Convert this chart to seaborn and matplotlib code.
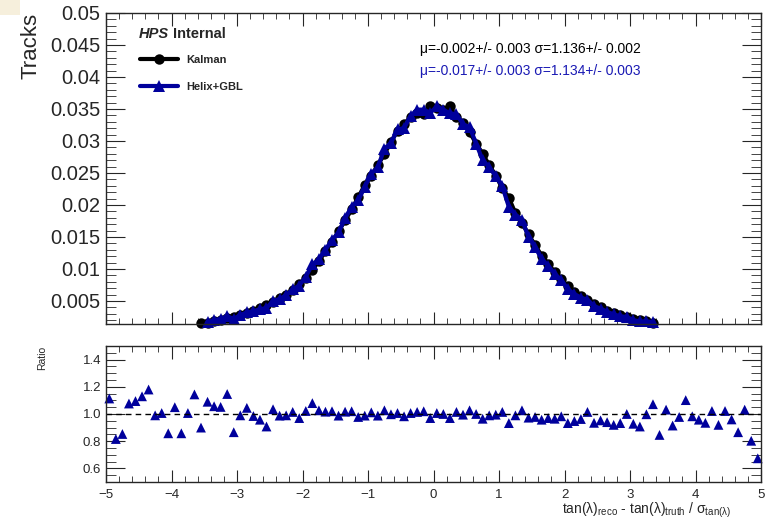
import numpy as np
import pandas as pd
import matplotlib
matplotlib.use("Agg")
import matplotlib.pyplot as plt
from matplotlib.patches import Rectangle
from matplotlib.ticker import MultipleLocator
import seaborn as sns

# bin centres (bin width 0.1)
kalman_x = np.round(np.arange(-3.55, 3.36, 0.1), 2)
kalman_y = [0.0015, 0.0016, 0.0019, 0.0021, 0.0023, 0.0025, 0.0028, 0.0031, 0.0034, 0.0039,
            0.0043, 0.0048, 0.0054, 0.0060, 0.0067, 0.0076, 0.0086, 0.0099, 0.0112, 0.0128,
            0.0142, 0.0159, 0.0176, 0.0193, 0.0212, 0.0231, 0.0246, 0.0262, 0.0280, 0.0298,
            0.0316, 0.0326, 0.0337, 0.0344, 0.0342, 0.0355, 0.0352, 0.0349, 0.0354, 0.0337,
            0.0328, 0.0314, 0.0296, 0.0280, 0.0262, 0.0246, 0.0226, 0.0211, 0.0187, 0.0172,
            0.0154, 0.0137, 0.0121, 0.0108, 0.0095, 0.0084, 0.0073, 0.0064, 0.0057, 0.0051,
            0.0045, 0.0040, 0.0035, 0.0031, 0.0028, 0.0025, 0.0022, 0.0020, 0.0018, 0.0016]

gbl_x = np.round(np.arange(-3.45, 3.36, 0.1), 2)
gbl_y = [0.0017, 0.0020, 0.0022, 0.0026, 0.0022, 0.0028, 0.0032, 0.0034, 0.0037, 0.0039,
         0.0050, 0.0053, 0.0059, 0.0068, 0.0074, 0.0088, 0.0107, 0.0115, 0.0130, 0.0145,
         0.0157, 0.0179, 0.0197, 0.0207, 0.0228, 0.0249, 0.0259, 0.0288, 0.0297, 0.0318,
         0.0320, 0.0339, 0.0349, 0.0349, 0.0344, 0.0354, 0.0349, 0.0343, 0.0342, 0.0326,
         0.0322, 0.0296, 0.0270, 0.0259, 0.0245, 0.0229, 0.0197, 0.0185, 0.0177, 0.0150,
         0.0134, 0.0116, 0.0105, 0.0092, 0.0083, 0.0068, 0.0061, 0.0055, 0.0052, 0.0042,
         0.0038, 0.0033, 0.0029, 0.0026, 0.0025, 0.0020, 0.0018, 0.0018, 0.0017]

ratio_x = np.round(np.arange(-4.95, 5.0, 0.1), 2)
ratio_y = [1.114, 0.816, 0.853, 1.077, 1.095, 1.13, 1.18, 0.99, 1.007, 0.858,
           1.05, 0.858, 1.007, 1.144, 0.90, 1.09, 1.057, 1.052, 1.147, 0.866,
           0.99, 1.045, 0.985, 0.958, 0.908, 1.035, 0.988, 0.99, 1.015, 0.97,
           1.022, 1.08, 1.027, 1.017, 1.02, 0.988, 1.017, 1.02, 0.978, 0.988,
           1.012, 0.988, 1.027, 0.998, 1.007, 0.983, 1.007, 1.015, 1.02, 0.97,
           1.007, 1.0, 0.97, 1.015, 0.995, 1.027, 1.0, 0.965, 0.99, 0.995,
           1.015, 0.933, 0.99, 1.027, 0.973, 0.978, 0.958, 0.97, 0.965, 0.983,
           0.933, 0.948, 0.963, 1.015, 0.935, 0.953, 0.94, 0.92, 0.933, 1.0,
           0.928, 0.908, 0.998, 1.072, 0.846, 1.032, 0.915, 0.978, 1.102, 0.983,
           0.958, 0.935, 1.022, 0.92, 1.022, 0.96, 0.866, 1.032, 0.803, 0.674]

stats_kalman = "\u03bc=-0.002+/- 0.003 \u03c3=1.136+/- 0.002"
stats_gbl = "\u03bc=-0.017+/- 0.003 \u03c3=1.134+/- 0.003"

blue = "#00009c"

sns.set_style("ticks")
plt.rcParams['font.family'] = ['Liberation Sans', 'DejaVu Sans']
plt.rcParams['mathtext.fontset'] = 'custom'
plt.rcParams['mathtext.rm'] = 'Liberation Sans'
plt.rcParams['mathtext.it'] = 'Liberation Sans'

kal = pd.DataFrame({'x': kalman_x, 'y': kalman_y})
gbl = pd.DataFrame({'x': gbl_x, 'y': gbl_y})
rat = pd.DataFrame({'x': ratio_x, 'y': ratio_y})

fig = plt.figure(figsize=(7.71, 5.24), dpi=100)
ax = fig.add_axes([0.1375, 0.3817, 0.8496, 0.5935])
axr = fig.add_axes([0.1375, 0.0802, 0.8496, 0.2595])

# 主图
sns.lineplot(data=kal, x='x', y='y', ax=ax, color='black', marker='o', markersize=7.5,
             markeredgewidth=0, linewidth=3, label='Kalman', clip_on=False)
sns.lineplot(data=gbl, x='x', y='y', ax=ax, color=blue, marker='^', markersize=8,
             markeredgewidth=0, linewidth=3, label='Helix+GBL', clip_on=False)
ax.set_xlim(-5, 5)
ax.set_ylim(0.0014, 0.05)
ax.set_xlabel('')
ax.set_ylabel('Tracks', fontsize=16, loc='top')
ax.yaxis.set_label_coords(-0.098, 1.0)
ax.yaxis.set_minor_locator(MultipleLocator(0.001))
ax.xaxis.set_major_locator(MultipleLocator(1))
ax.xaxis.set_minor_locator(MultipleLocator(0.2))
yt = np.round(np.arange(0.005, 0.0501, 0.005), 3)
ax.set_yticks(yt)
ax.set_yticklabels([f"{v:g}" for v in yt])
ax.tick_params(axis='both', which='both', direction='in', top=True, right=True)
ax.tick_params(axis='y', which='major', length=14, labelsize=14.5, pad=4)
ax.tick_params(axis='y', which='minor', length=7)
ax.tick_params(axis='x', which='major', length=9, labelbottom=False)
ax.tick_params(axis='x', which='minor', length=4.5)
ax.legend(loc='upper left', bbox_to_anchor=(0.045, 0.878), frameon=False,
          prop={'weight': 'bold', 'size': 8}, handlelength=3.4, labelspacing=1.5,
          handletextpad=0.8, borderaxespad=0)

ax.text(0.05, 0.955, 'HPS', transform=ax.transAxes, fontsize=10.5,
        fontweight='bold', fontstyle='italic', va='top')
ax.text(0.103, 0.955, 'Internal', transform=ax.transAxes, fontsize=10.5,
        fontweight='bold', va='top')
ax.text(0.48, 0.883, stats_kalman, transform=ax.transAxes, fontsize=10, color='black', va='center')
ax.text(0.48, 0.815, stats_gbl, transform=ax.transAxes, fontsize=10, color='#1a1ab4', va='center')

# 比值图
sns.scatterplot(data=rat, x='x', y='y', ax=axr, color=blue, marker='^', s=50,
                edgecolor='none', clip_on=False, legend=False)
axr.axhline(1.0, color='black', linestyle='--', linewidth=1, dashes=(4, 3))
axr.set_xlim(-5, 5)
axr.set_ylim(0.5, 1.5)
axr.set_yticks([0.6, 0.8, 1.0, 1.2, 1.4])
axr.set_yticklabels(['0.6', '0.8', '1.0', '1.2', '1.4'])
axr.yaxis.set_minor_locator(MultipleLocator(0.05))
axr.xaxis.set_minor_locator(MultipleLocator(0.2))
xt = np.arange(-5, 6, 1)
axr.set_xticks(xt)
axr.set_xticklabels([f"\u2212{abs(v)}" if v < 0 else f"{v}" for v in xt])
axr.tick_params(axis='both', which='both', direction='in', top=True, right=True)
axr.tick_params(axis='y', which='major', length=14, labelsize=9.5)
axr.tick_params(axis='y', which='minor', length=7)
axr.tick_params(axis='x', which='major', length=9, labelsize=9.5, pad=5)
axr.tick_params(axis='x', which='minor', length=4.5)
axr.set_ylabel('Ratio', fontsize=7.5, loc='top')
axr.yaxis.set_label_coords(-0.09, 1.0)
axr.set_xlabel('')
axr.text(0.955, -0.14, r'tan(λ)$_{\rm reco}$ - tan(λ)$_{\rm truth}$ / σ$_{\rm tan(λ)}$',
         transform=axr.transAxes, fontsize=10, ha='right', va='top')

for a in (ax, axr):
    for s in a.spines.values():
        s.set_linewidth(1.0)

fig.patches.append(Rectangle((0, 1 - 15 / 524), 20 / 771, 15 / 524, transform=fig.transFigure,
                             facecolor='#f6efdc', edgecolor='none'))

fig.savefig('out.png', dpi=100)
